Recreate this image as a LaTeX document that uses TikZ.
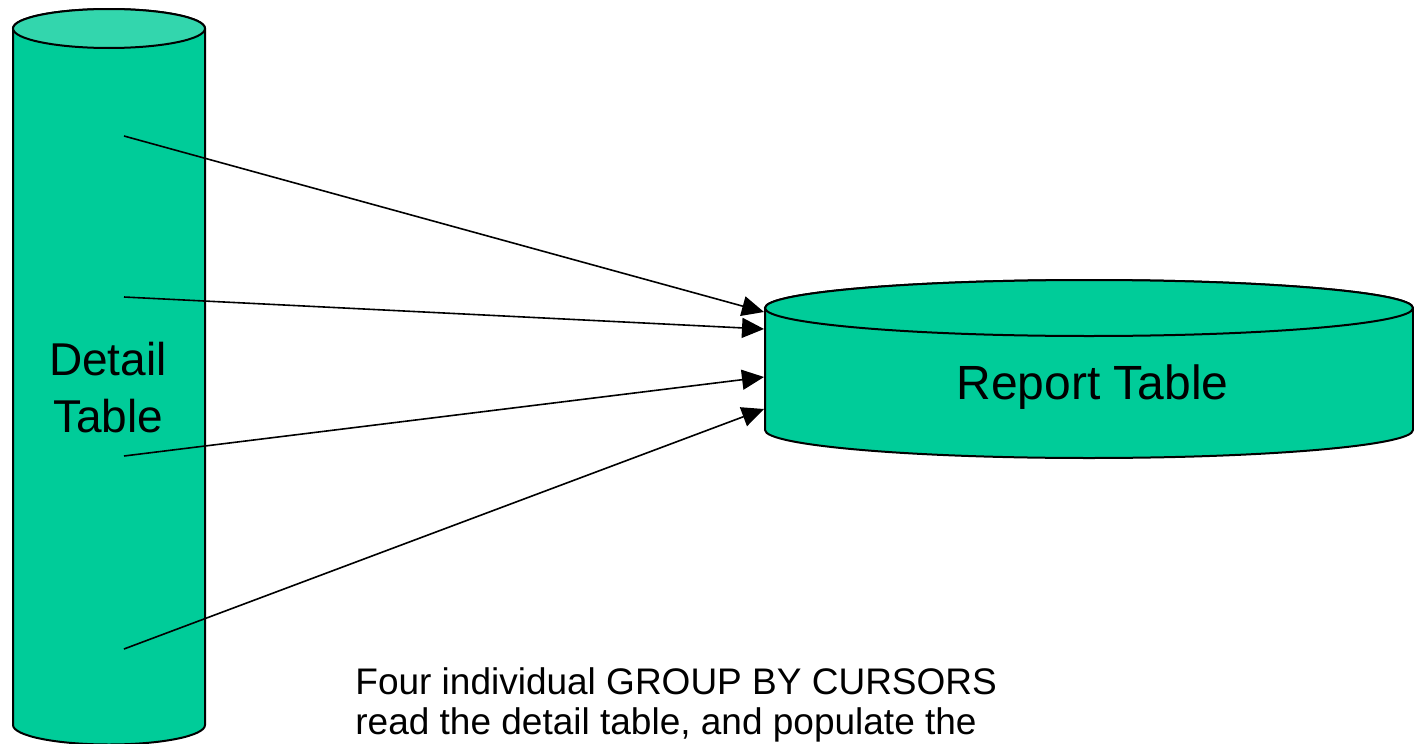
\documentclass[tikz,border=0pt]{standalone}
\usepackage{fontspec}
\setmainfont{Liberation Sans}
\usetikzlibrary{arrows.meta}

\definecolor{tablegreen}{HTML}{00CC99}
\definecolor{tabletop}{HTML}{33D6AD}

\begin{document}
\begin{tikzpicture}[x=0.5pt,y=-0.5pt,
    tableside/.style={draw, line width=1pt, fill=tablegreen},
    feed/.style={-{Triangle[length=11pt,width=10pt]}, line width=0.8pt}]
    \useasboundingbox (0,0) rectangle (1414,744);

    % detail table, a tall cylinder
    \draw [tableside] (13,28.5) -- (13,725)
        arc [start angle=180, end angle=360, x radius=48pt, y radius=9.75pt]
        -- (205,28.5)
        arc [start angle=0, end angle=180, x radius=48pt, y radius=9.75pt] -- cycle;
    \draw [tableside, fill=tabletop] (109,28.5) ellipse [x radius=48pt, y radius=9.75pt]; % lid
    \node [anchor=base, align=center, inner sep=0pt,
        font=\fontsize{23}{28.5}\selectfont] (detail) at (108,432) {Detail\\Table};

    % report table, a wide flat cylinder
    \draw [tableside] (765,308) -- (765,430)
        arc [start angle=180, end angle=360, x radius=162pt, y radius=14pt]
        -- (1413,308)
        arc [start angle=0, end angle=180, x radius=162pt, y radius=14pt] -- cycle;
    \draw [tableside] (1089,308) ellipse [x radius=162pt, y radius=14pt]; % lid
    \node [anchor=base, inner sep=0pt,
        font=\fontsize{24}{28}\selectfont] (report) at (1092.5,399) {Report Table};

    % the four cursors
    \coordinate (c1) at (124,136);
    \coordinate (c2) at (124,297);
    \coordinate (c3) at (124,456);
    \coordinate (c4) at (124,649);

    \coordinate (r1) at (764,312);
    \coordinate (r2) at (764,329);
    \coordinate (r3) at (764,377);
    \coordinate (r4) at (764,409);

    \draw [feed] (c1) -- (r1);
    \draw [feed] (c2) -- (r2);
    \draw [feed] (c3) -- (r3);
    \draw [feed] (c4) -- (r4);

    \node [anchor=base west, align=left, inner sep=0pt,
        font=\fontsize{18.5}{20}\selectfont] (note) at (355,734)
        {Four individual GROUP BY CURSORS\\read the detail table, and populate the};
\end{tikzpicture}
\end{document}
